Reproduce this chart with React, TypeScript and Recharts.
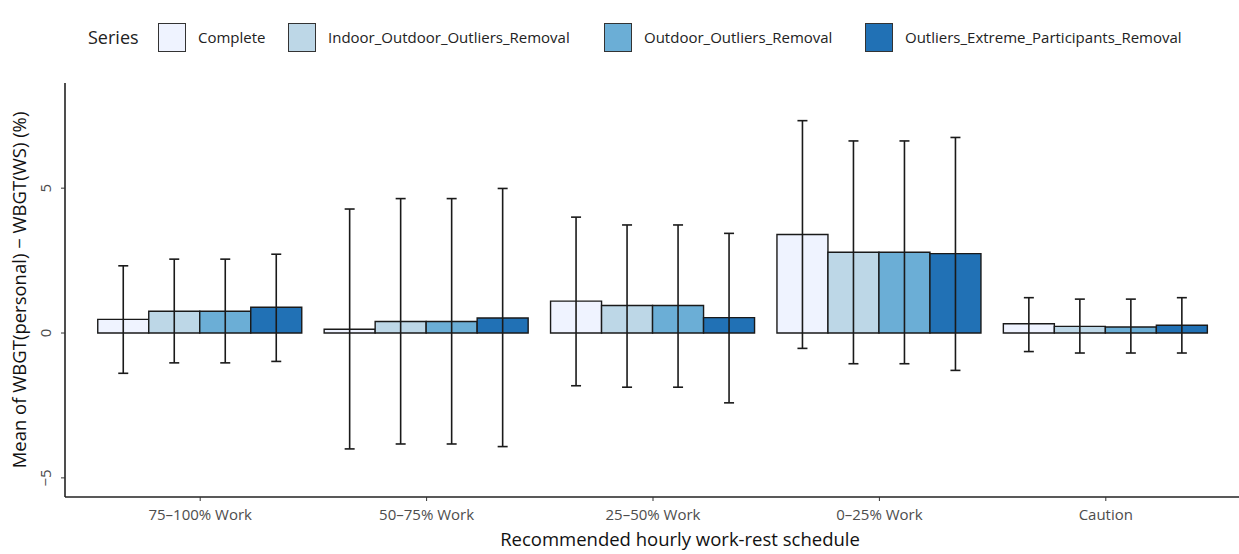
import React from 'react';
import { BarChart, Bar, XAxis, YAxis, ErrorBar } from 'recharts';

const categories = ['75–100% Work', '50–75% Work', '25–50% Work', '0–25% Work', 'Caution'];
const seriesNames = [
  'Complete',
  'Indoor_Outdoor_Outliers_Removal',
  'Outdoor_Outliers_Removal',
  'Outliers_Extreme_Participants_Removal',
];
const seriesColors = ['#EFF3FF', '#BDD7E7', '#6BAED6', '#2171B5'];

const complete = [0.47, 0.13, 1.1, 3.4, 0.32];
const completeLow = [-1.39, -4.0, -1.82, -0.53, -0.64];
const completeHigh = [2.32, 4.28, 4.0, 7.33, 1.22];

const indoorOutdoor = [0.75, 0.4, 0.95, 2.79, 0.23];
const indoorOutdoorLow = [-1.03, -3.83, -1.87, -1.06, -0.69];
const indoorOutdoorHigh = [2.55, 4.64, 3.73, 6.63, 1.17];

const outdoor = [0.75, 0.4, 0.95, 2.79, 0.21];
const outdoorLow = [-1.03, -3.83, -1.87, -1.06, -0.69];
const outdoorHigh = [2.55, 4.64, 3.73, 6.63, 1.17];

const extreme = [0.89, 0.52, 0.53, 2.74, 0.27];
const extremeLow = [-0.98, -3.92, -2.41, -1.29, -0.69];
const extremeHigh = [2.72, 4.99, 3.44, 6.75, 1.22];

const yTicks = [-5, 0, 5];

const seriesValues = [complete, indoorOutdoor, outdoor, extreme];
const seriesLows = [completeLow, indoorOutdoorLow, outdoorLow, extremeLow];
const seriesHighs = [completeHigh, indoorOutdoorHigh, outdoorHigh, extremeHigh];

const data = categories.map((cat, i) => {
  const row: any = { category: cat };
  seriesNames.forEach((name, s) => {
    const v = seriesValues[s][i];
    row[name] = v;
    row[name + '_err'] = [v - seriesLows[s][i], seriesHighs[s][i] - v];
  });
  return row;
});

const FONT = '"Open Sans", "DejaVu Sans", sans-serif';
const legendLefts = [158, 288, 604, 865];

const LegendBlock = () => (
  <div style={{ position: 'absolute', left: 0, top: 22, width: 1239, height: 30, fontFamily: FONT, color: '#222' }}>
    <span style={{ position: 'absolute', left: 88, top: 2, fontSize: 18, lineHeight: '26px' }}>Series</span>
    {seriesNames.map((name, i) => (
      <div key={name} style={{ position: 'absolute', left: legendLefts[i], top: 0, display: 'flex', alignItems: 'center', height: 30 }}>
        <div
          style={{
            width: 28,
            height: 29,
            background: seriesColors[i],
            border: '1.6px solid #333',
            boxSizing: 'border-box',
            marginRight: 12,
          }}
        />
        <span style={{ fontSize: 15, whiteSpace: 'nowrap' }}>{name}</span>
      </div>
    ))}
  </div>
);

const YTick = (props: any) => {
  const { x, y, payload } = props;
  const tx = x - 8;
  return (
    <text
      x={tx}
      y={y}
      transform={`rotate(-90, ${tx}, ${y})`}
      textAnchor="middle"
      fontFamily={FONT}
      fontSize={15}
      fill="#4d4d4d"
    >
      {payload.value < 0 ? '−' + Math.abs(payload.value) : payload.value}
    </text>
  );
};

const XTick = (props: any) => {
  const { x, y, payload } = props;
  return (
    <text x={x} y={y + 17} textAnchor="middle" fontFamily={FONT} fontSize={15} fill="#4d4d4d">
      {payload.value}
    </text>
  );
};

const YLabel = () => (
  <text
    x={26}
    y={290}
    transform="rotate(-90, 26, 290)"
    textAnchor="middle"
    fontFamily={FONT}
    fontSize={18.5}
    fill="#111"
  >
    Mean of WBGT(personal) − WBGT(WS) (%)
  </text>
);

const XLabel = () => (
  <text x={680} y={546} textAnchor="middle" fontFamily={FONT} fontSize={18.5} fill="#111">
    Recommended hourly work-rest schedule
  </text>
);

export default function App() {
  return (
    <div style={{ position: 'absolute', left: 0, top: 0, width: 1239, height: 554, background: '#fff' }}>
      <LegendBlock />
      <BarChart
        width={1239}
        height={554}
        data={data}
        margin={{ top: 83, right: 0, left: 20, bottom: 27 }}
        barCategoryGap="4.75%"
        barGap={0}
      >
        <XAxis
          dataKey="category"
          padding={{ left: 22, right: 20 }}
          axisLine={{ stroke: '#222', strokeWidth: 1.6 }}
          tickLine={{ stroke: '#333' }}
          tickSize={4}
          height={30}
          tick={<XTick />}
          label={{ content: () => <XLabel /> }}
        />
        <YAxis
          width={45}
          domain={[-5.66, 8.63]}
          ticks={yTicks}
          allowDataOverflow
          axisLine={{ stroke: '#222', strokeWidth: 1.6 }}
          tickLine={{ stroke: '#333' }}
          tickSize={4}
          tick={<YTick />}
          label={{ content: () => <YLabel /> }}
        />
        {seriesNames.map((name, i) => (
          <Bar
            key={name}
            dataKey={name}
            fill={seriesColors[i]}
            stroke="#1a1a1a"
            strokeWidth={1.4}
            isAnimationActive={false}
          >
            <ErrorBar dataKey={name + '_err'} width={5} stroke="#1a1a1a" strokeWidth={1.6} direction="y" />
          </Bar>
        ))}
      </BarChart>
    </div>
  );
}
